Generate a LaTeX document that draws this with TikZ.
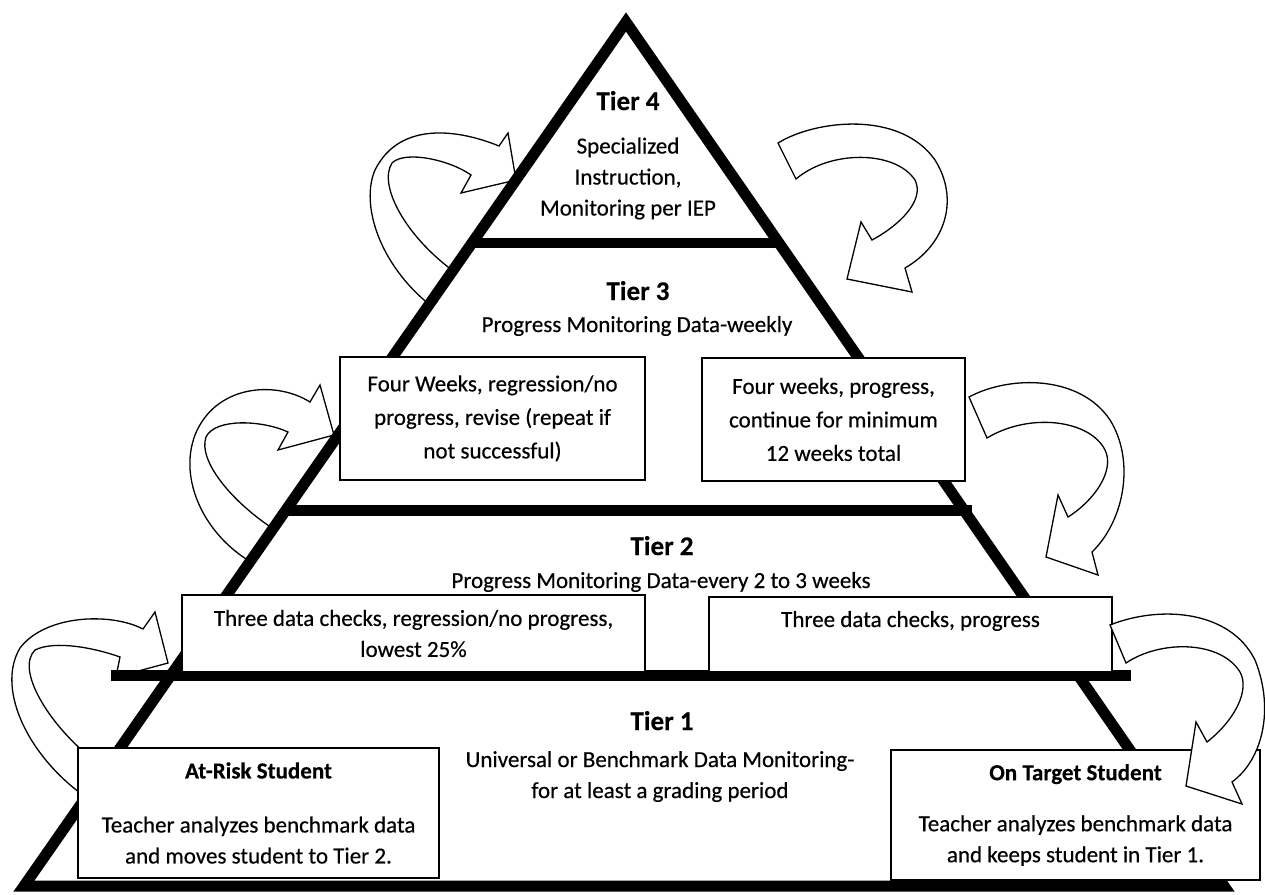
\documentclass[tikz,border=0pt]{standalone}
\usepackage{fontspec}
\setmainfont{Carlito}[FakeBold=0.4]

\tikzset{
    tierline/.style={line width=11pt, line join=miter},
    tbox/.style={draw, fill=white, line width=1.5pt, align=center, inner sep=0pt,
        font=\fontsize{23}{31}\selectfont},
    tierlabel/.style={anchor=base, font=\fontsize{27}{31}\selectfont\bfseries},
    tiertext/.style={align=center, font=\fontsize{23}{31}\selectfont},
    bandarrow/.style={draw, fill=white, line width=1.3pt}
}

\begin{document}
\begin{tikzpicture}[x=1pt,y=-1pt]
    % Rahmen
    \fill[white] (0,0) rectangle (1265,894);
    \useasboundingbox (0,0) rectangle (1265,894);

    % Eckpunkte der Pyramide
    \coordinate (apex) at (626,22);
    \coordinate (bl) at (24,886);
    \coordinate (br) at (1224,886);

    % Pfeile links (hinter der Pyramide)
    \draw[bandarrow] (452,270) .. controls (405,235) and (378,185) .. (392,163)
        .. controls (405,150) and (450,160) .. (471,175) -- (461,193) -- (516,180)
        -- (508,133) -- (499,146) .. controls (460,130) and (400,120) .. (375,170)
        .. controls (360,205) and (380,265) .. (430,305) -- cycle;
    \draw[bandarrow] (272,528) .. controls (230,500) and (198,460) .. (206,437)
        .. controls (215,418) and (262,420) .. (288,432) -- (278,450) -- (334,435)
        -- (320,385) -- (310,402) .. controls (275,380) and (215,385) .. (195,435)
        .. controls (178,480) and (205,535) .. (251,562) -- cycle;
    \draw[bandarrow] (90,757) .. controls (50,725) and (15,670) .. (35,650)
        .. controls (55,640) and (95,648) .. (120,657) -- (116,677) -- (168,663)
        -- (155,612) -- (143,629) .. controls (110,612) and (45,615) .. (20,648)
        .. controls (-5,690) and (30,760) .. (90,800) -- cycle;

    % Pfeile rechts
    \draw[bandarrow] (778,143) .. controls (815,120) and (900,110) .. (935,160)
        .. controls (960,200) and (945,245) .. (905,268) -- (912,292) -- (847,279)
        -- (861,222) -- (872,240) .. controls (900,225) and (925,200) .. (915,180)
        .. controls (895,150) and (830,150) .. (796,179) -- cycle;
    \draw[bandarrow] (969,397) .. controls (1010,375) and (1080,375) .. (1110,420)
        .. controls (1135,460) and (1125,520) .. (1092,552) -- (1098,575) -- (1046,557)
        -- (1058,495) -- (1068,517) .. controls (1095,500) and (1115,470) .. (1105,450)
        .. controls (1090,420) and (1030,412) .. (987,438) -- cycle;

    % Pyramide und Stufen
    \draw[tierline] (bl) -- (apex) -- (br) -- cycle;
    \draw[tierline, line width=10pt] (472,243) -- (779,243);
    \draw[tierline] (285,510) -- (972,510);
    \draw[tierline] (111,675) -- (1131,675);

    % Kaesten
    \node[tbox, minimum width=305pt, minimum height=123pt,
        font=\fontsize{23}{33.5}\selectfont] (weeksno) at (492.5,418.5)
        {Four Weeks, regression/no\\progress, revise (repeat if\\not successful)};
    \node[tbox, minimum width=263pt, minimum height=123pt,
        font=\fontsize{23}{33.5}\selectfont] (weeksyes) at (833.5,419.5)
        {Four weeks, progress,\\continue for minimum\\12 weeks total};
    \node[tbox, minimum width=463pt, minimum height=77pt] (checksno) at (413.5,633.5)
        {Three data checks, regression/no progress,\\lowest 25\%};
    \node[tbox, minimum width=403pt, minimum height=75pt] (checksyes) at (910.5,634.5)
        {Three data checks, progress\\\mbox{}};
    \node[tbox, minimum width=361pt, minimum height=130pt] (atrisk) at (258.5,813)
        {\textbf{At-Risk Student}\\[23pt]Teacher analyzes benchmark data\\and moves student to Tier 2.};
    \node[tbox, minimum width=369pt, minimum height=130pt] (ontarget) at (1075.5,815)
        {\textbf{On Target Student}\\[20pt]Teacher analyzes benchmark data\\and keeps student in Tier 1.};

    % Pfeil ueber dem Kasten rechts unten
    \draw[bandarrow] (1110,625) .. controls (1160,605) and (1230,610) .. (1255,660)
        .. controls (1275,710) and (1262,760) .. (1232,782) -- (1242,804) -- (1186,786)
        -- (1196,722) -- (1207,742) .. controls (1235,720) and (1250,690) .. (1240,672)
        .. controls (1220,640) and (1160,640) .. (1126,663) -- cycle;

    % Beschriftung der Stufen
    \node[tierlabel] (tier4) at (628,110) {Tier 4};
    \node[tiertext] (tier4txt) at (628,178.5) {Specialized\\Instruction,\\Monitoring per IEP};
    \node[tierlabel] (tier3) at (638,300) {Tier 3};
    \node[tiertext, anchor=base] (tier3txt) at (637,332) {Progress Monitoring Data-weekly};
    \node[tierlabel] (tier2) at (662,555) {Tier 2};
    \node[tiertext, anchor=base] (tier2txt) at (661,588) {Progress Monitoring Data-every 2 to 3 weeks};
    \node[tierlabel] (tier1) at (662,730) {Tier 1};
    \node[tiertext] (tier1txt) at (660,776.5) {Universal or Benchmark Data Monitoring-\\for at least a grading period};
\end{tikzpicture}
\end{document}
